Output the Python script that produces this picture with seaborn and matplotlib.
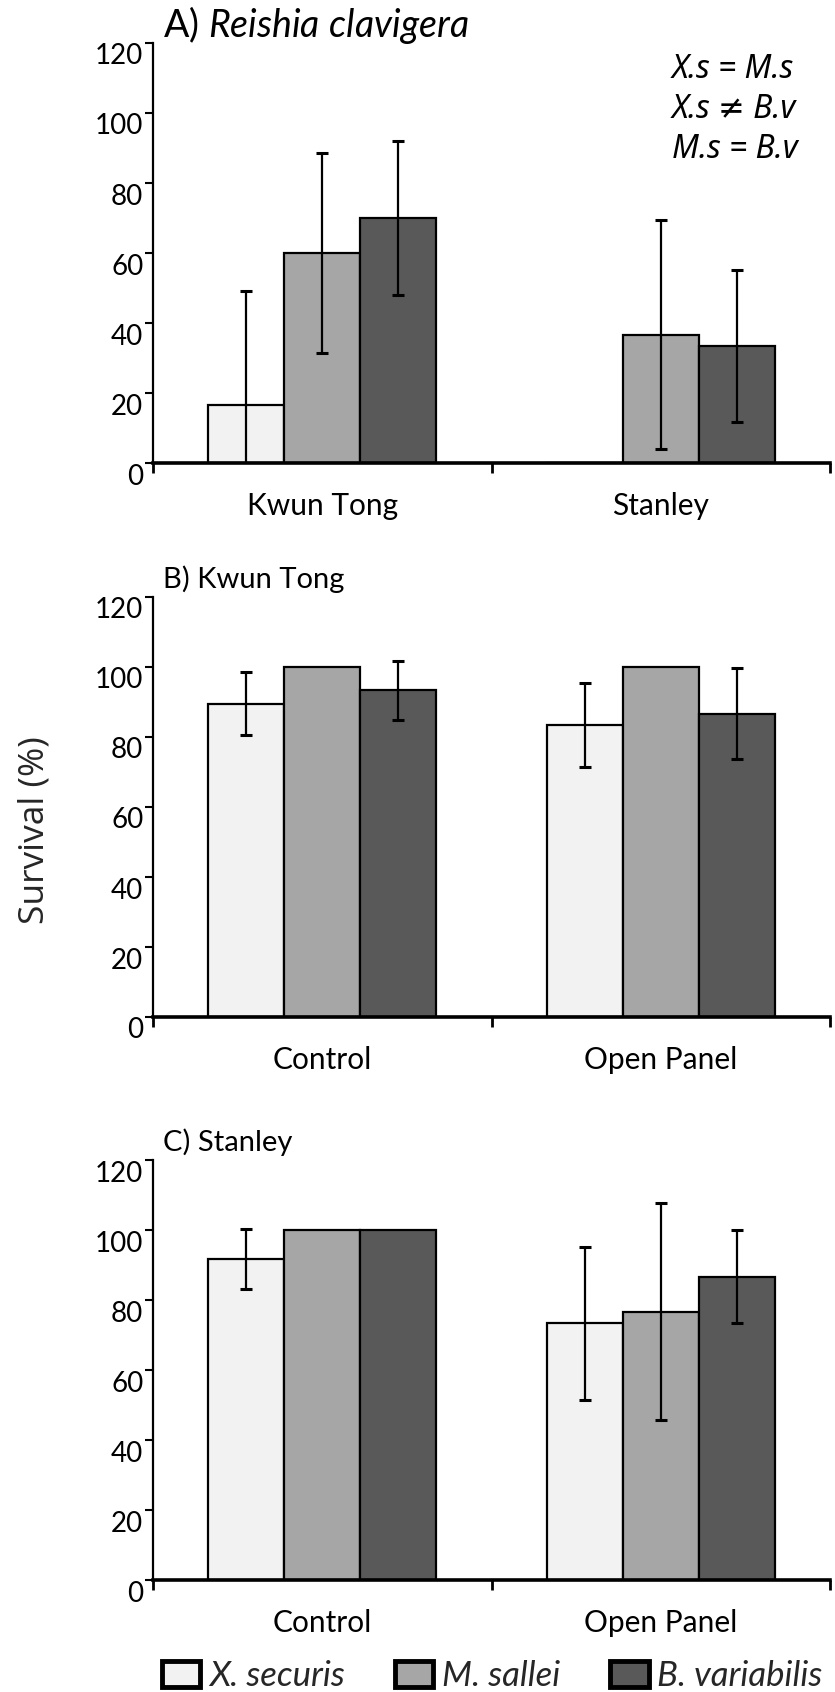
import numpy as np
import pandas as pd
import matplotlib
matplotlib.use("Agg")
import matplotlib.pyplot as plt
import seaborn as sns
from matplotlib.patches import Patch
from matplotlib.transforms import ScaledTranslation

# ---------------- data ----------------
species = ["X. securis", "M. sallei", "B. variabilis"]
colors = ["#f2f2f2", "#a6a6a6", "#595959"]

sites = ["Kwun Tong", "Stanley"]
treatments = ["Control", "Open Panel"]

# Panel A: Reishia clavigera (by site)
a_xs = [16.7, 0.0]
a_ms = [60.0, 36.7]
a_bv = [70.0, 33.3]
a_xs_err = [32.5, np.nan]
a_ms_err = [28.7, 32.7]
a_bv_err = [22.0, 21.7]

# Panel B: Kwun Tong (by treatment)
b_xs = [89.5, 83.3]
b_ms = [100.0, 100.0]
b_bv = [93.3, 86.7]
b_xs_err = [9.0, 12.0]
b_ms_err = [np.nan, np.nan]
b_bv_err = [8.4, 13.0]

# Panel C: Stanley (by treatment)
c_xs = [91.7, 73.3]
c_ms = [100.0, 76.7]
c_bv = [100.0, 86.7]
c_xs_err = [8.6, 21.8]
c_ms_err = [np.nan, 31.0]
c_bv_err = [np.nan, 13.2]

y_ticks = [0, 20, 40, 60, 80, 100, 120]
stats_lines = ["X.s = M.s", "X.s \u2260 B.v", "M.s = B.v"]

# ---------------- style ----------------
sns.set_theme(style="ticks")
plt.rcParams["font.family"] = ["Lato", "DejaVu Sans"]
plt.rcParams["mathtext.fontset"] = "custom"
plt.rcParams["mathtext.rm"] = "Lato"
plt.rcParams["mathtext.it"] = "Lato:italic"

TICK_FS = 20
CAT_FS = 21.5
TITLE_FS = 21
fig = plt.figure(figsize=(8.35, 16.92), dpi=100)

W, H = 835, 1692
left = 153 / W
width = (830 - 153) / W
ph = 420 / H
axA = fig.add_axes([left, 1 - 463 / H, width, ph])
axB = fig.add_axes([left, 1 - 1017 / H, width, ph])
axC = fig.add_axes([left, 1 - 1580 / H, width, ph])


def draw_panel(ax, cats, means, errs, title, title_fs):
    df = pd.DataFrame({
        "cat": [c for _ in species for c in cats],
        "sp": [s for s in species for _ in cats],
        "val": [v for m in means for v in m],
    })
    sns.barplot(data=df, x="cat", y="val", hue="sp", order=cats,
                hue_order=species, palette=colors, saturation=1,
                width=0.675, edgecolor="black", linewidth=1.6,
                errorbar=None, legend=False, ax=ax, zorder=2)
    for cont, err in zip(ax.containers, errs):
        for bar, e in zip(cont, err):
            if np.isnan(e):
                continue
            ax.errorbar(bar.get_x() + bar.get_width() / 2, bar.get_height(),
                        yerr=e, fmt="none", ecolor="black", elinewidth=1.6,
                        capsize=4, capthick=2.2, zorder=3)
    ax.set_xlim(-0.5, 1.5)
    ax.set_ylim(0, 120)
    ax.set_yticks(y_ticks)
    ax.set_yticklabels([str(t) for t in y_ticks])
    ax.set_xticks([-0.5, 0.5, 1.5])
    ax.set_xticklabels(["", "", ""])
    ax.set_xticks([0, 1], labels=cats, minor=True)
    ax.tick_params(axis="x", which="major", direction="out", length=7,
                   width=2, color="black")
    ax.tick_params(axis="x", which="minor", length=0, pad=21,
                   labelsize=CAT_FS, labelcolor="black")
    ax.tick_params(axis="y", direction="out", length=6, width=1.5,
                   pad=1, labelsize=TICK_FS, labelcolor="black", color="black")
    ax.set_xlabel("")
    ax.set_ylabel("")
    for s in ["top", "right"]:
        ax.spines[s].set_visible(False)
    ax.spines["left"].set_linewidth(1.6)
    ax.spines["left"].set_color("black")
    ax.spines["bottom"].set_linewidth(2.6)
    ax.spines["bottom"].set_color("black")
    off = ScaledTranslation(0, -11 / 100, fig.dpi_scale_trans)
    for tick in ax.yaxis.get_major_ticks():
        tick.label1.set_transform(tick.label1.get_transform() + off)
    ax.text(0.015, 1 + 18 / 420, title, transform=ax.transAxes,
            ha="left", va="center", fontsize=title_fs, color="black")


draw_panel(axA, sites, [a_xs, a_ms, a_bv], [a_xs_err, a_ms_err, a_bv_err],
           r"A) $\mathit{Reishia\ clavigera}$", 27)
draw_panel(axB, treatments, [b_xs, b_ms, b_bv], [b_xs_err, b_ms_err, b_bv_err],
           "B) Kwun Tong", TITLE_FS)
draw_panel(axC, treatments, [c_xs, c_ms, c_bv], [c_xs_err, c_ms_err, c_bv_err],
           "C) Stanley", TITLE_FS)

# statistics annotation in panel A
for i, line in enumerate(stats_lines):
    fig.text(672 / W, 1 - (70 + 40 * i) / H, line, ha="left", va="center",
             fontsize=23, style="italic", color="black",
             family=["Noto Sans", "DejaVu Sans"])

# y axis label
fig.text(35 / W, 1 - 830 / H, "Survival (%)", rotation=90, ha="center",
         va="center", fontsize=25.5, family=["Open Sans", "DejaVu Sans"],
         color="#262626")

# legend
handles = [Patch(facecolor=c, edgecolor="black", linewidth=3.5, label=s)
           for s, c in zip(species, colors)]
fig.legend(handles=handles, loc="center left",
           bbox_to_anchor=(162 / W, 1 - 1676 / H), ncol=3, frameon=False,
           prop={"style": "italic", "size": 25, "family": ["Lato", "DejaVu Sans"]},
           handlelength=1.1, handleheight=0.75, handletextpad=0.25,
           columnspacing=1.45, borderpad=0, borderaxespad=0)

fig.savefig("out.png", dpi=100)
